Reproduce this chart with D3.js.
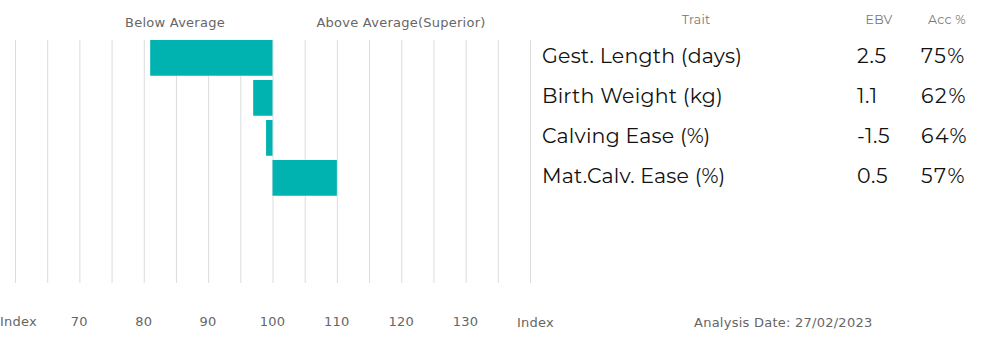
<!DOCTYPE html>
<html><head><meta charset="utf-8">
<script src="https://cdn.jsdelivr.net/npm/d3@7"></script>
<style>body{margin:0;background:#fff}svg{display:block}</style>
</head><body>
<svg id="c" width="990" height="347"></svg>
<script>
const traits = ["Gest. Length (days)", "Birth Weight (kg)", "Calving Ease (%)", "Mat.Calv. Ease (%)"];
const indexValues = [81, 97, 99, 110];
const ebv = ["2.5", "1.1", "-1.5", "0.5"];
const acc = ["75%", "62%", "64%", "57%"];
const tickLabels = [70, 80, 90, 100, 110, 120, 130];
const gridValues = d3.range(60, 141, 5);
const baseline = 100;
const rowSlots = ["r0", "r1", "r2", "r3", "r4", "r5"];

const svg = d3.select("#c");
const x = d3.scaleLinear().domain([60, 140]).range([15, 530]);
const y = d3.scaleBand().domain(rowSlots).range([40, 280]).paddingInner(0.125).paddingOuter(0);
const y0 = d3.scaleBand().domain(rowSlots).range([40, 280]);

const axisFont = "Verdana, 'DejaVu Sans', sans-serif";
const tblFont = "Montserrat, 'Noto Sans', 'Open Sans', sans-serif";
const axisLS = 0.25;

// grid
svg.append("g").selectAll("line").data(gridValues).join("line")
  .attr("x1", d => x(d) + 0.5).attr("x2", d => x(d) + 0.5)
  .attr("y1", 40).attr("y2", 283)
  .attr("stroke", "#dcdcdc").attr("stroke-width", 1);

// bars
svg.append("g").selectAll("rect").data(indexValues).join("rect")
  .attr("x", d => x(Math.min(d, baseline)))
  .attr("width", d => Math.abs(x(d) - x(baseline)))
  .attr("y", (d, i) => y0(rowSlots[i]))
  .attr("height", y.bandwidth())
  .attr("fill", "#00b2b0");

// headers
svg.append("text").attr("x", 175).attr("y", 27).attr("text-anchor", "middle")
  .attr("font-family", axisFont).attr("font-size", 13).attr("letter-spacing", axisLS).attr("fill", "#666").text("Below Average");
svg.append("text").attr("x", 401).attr("y", 27).attr("text-anchor", "middle")
  .attr("font-family", axisFont).attr("font-size", 13).attr("letter-spacing", axisLS).attr("fill", "#666").text("Above Average(Superior)");

// bottom axis labels
const axisG = svg.append("g").attr("transform", "translate(0,326)");
axisG.selectAll("text.t").data(tickLabels).join("text").attr("class", "t")
  .attr("x", d => x(d)).attr("text-anchor", "middle")
  .attr("font-family", axisFont).attr("font-size", 13).attr("letter-spacing", axisLS).attr("fill", "#666").text(d => d);
axisG.append("text").attr("x", 0).attr("text-anchor", "start")
  .attr("font-family", axisFont).attr("font-size", 13).attr("letter-spacing", axisLS).attr("fill", "#666").text("Index");
axisG.append("text").attr("x", 517).attr("y", 1).attr("text-anchor", "start")
  .attr("font-family", axisFont).attr("font-size", 13).attr("letter-spacing", axisLS).attr("fill", "#666").text("Index");

svg.append("text").attr("x", 694).attr("y", 327)
  .attr("font-family", axisFont).attr("font-size", 13).attr("letter-spacing", axisLS).attr("fill", "#666").text("Analysis Date: 27/02/2023");

// table headers
const hdr = [["Trait", 696, "middle"], ["EBV", 879, "middle"], ["Acc %", 947, "middle"]];
svg.append("g").selectAll("text").data(hdr).join("text")
  .attr("x", d => d[1]).attr("y", 24).attr("text-anchor", d => d[2])
  .attr("font-family", tblFont).attr("font-size", 12.5).attr("letter-spacing", 0.3).attr("fill", "#777").text(d => d[0]);

// table rows
const rowY = (i) => y0(rowSlots[i]) + y.bandwidth() / 2 + 5;
const rows = svg.append("g");
rows.selectAll("text.tr").data(traits).join("text").attr("class", "tr")
  .attr("x", 542).attr("y", (d, i) => rowY(i))
  .attr("font-family", tblFont).attr("font-size", 20.5).attr("letter-spacing", 0.2).attr("fill", "#111").text(d => d);
rows.selectAll("text.eb").data(ebv).join("text").attr("class", "eb")
  .attr("x", 857).attr("y", (d, i) => rowY(i))
  .attr("font-family", tblFont).attr("font-size", 20.5).attr("letter-spacing", 0.6).attr("fill", "#111").text(d => d);
rows.selectAll("text.ac").data(acc).join("text").attr("class", "ac")
  .attr("x", 921).attr("y", (d, i) => rowY(i))
  .attr("font-family", tblFont).attr("font-size", 20.5).attr("letter-spacing", 1.6).attr("fill", "#111").text(d => d);
</script>
</body></html>
